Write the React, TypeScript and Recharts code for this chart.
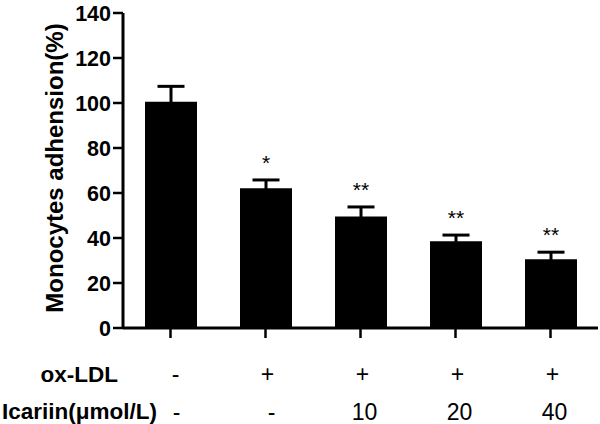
import React from 'react';
import { BarChart, Bar, XAxis, YAxis, ErrorBar, LabelList } from 'recharts';

const groups = ['Control', 'ox-LDL', 'Icariin 10', 'Icariin 20', 'Icariin 40'];
const oxLdlRow = ['-', '+', '+', '+', '+'];
const icariinRow = ['-', '-', '10', '20', '40'];
const adhesion = [100.6, 62.1, 49.6, 38.6, 30.6];
const sem = [6.8, 3.7, 4.2, 2.7, 3.1];
const significance = ['', '*', '**', '**', '**'];
const yTicks = [0, 20, 40, 60, 80, 100, 120, 140];

const data = groups.map((g, i) => ({
  group: g,
  value: adhesion[i],
  err: sem[i],
  sig: significance[i],
  ox: oxLdlRow[i],
  ica: icariinRow[i],
}));

const FONT = '"Liberation Sans", Arial, Helvetica, sans-serif';

const XTick = (props: any) => {
  const { x, y, payload } = props;
  const i = payload.index;
  const d = data[i];
  return (
    <g>
      {i === 0 && (
        <>
          <text x={118} y={y + 42} textAnchor="end" fontFamily={FONT} fontSize={22.5} fontWeight="bold" fill="#000">ox-LDL</text>
          <text x={157} y={y + 79} textAnchor="end" fontFamily={FONT} fontSize={22.5} fontWeight="bold" fill="#000">Icariin(μmol/L)</text>
        </>
      )}
      <text x={x + (i === 0 ? 5 : 2)} y={y + 42} textAnchor="middle" fontFamily={FONT} fontSize={23} fill="#000">{d.ox}</text>
      <text x={x + (i < 2 ? 6 : 4)} y={y + 80} textAnchor="middle" fontFamily={FONT} fontSize={23} fill="#000">{d.ica}</text>
    </g>
  );
};

const SigLabel = (props: any) => {
  const { x, y, width, height, index } = props;
  const d = data[index];
  if (!d || !d.sig) return null;
  const pxPerUnit = height / d.value;
  const errTop = y - d.err * pxPerUnit;
  return (
    <text x={x + width / 2} y={errTop - 10} textAnchor="middle" fontFamily={FONT} fontSize={21} fill="#000">{d.sig}</text>
  );
};

const YLabel = (props: any) => {
  const { viewBox } = props;
  const cx = viewBox.x + 54;
  const cy = 168;
  return (
    <text x={cx} y={cy} transform={`rotate(-90 ${cx} ${cy})`} textAnchor="middle" dominantBaseline="central" fontFamily={FONT} fontSize={24} fontWeight="bold" fill="#000">Monocytes adhension(%)</text>
  );
};

export default function App() {
  return (
    <div style={{ position: 'absolute', left: 0, top: 0, width: 600, height: 424, background: '#fff' }}>
      <BarChart width={600} height={424} data={data} margin={{ top: 13, right: 2, bottom: 0, left: 0 }} barCategoryGap={0}>
        <XAxis
          dataKey="group"
          height={96}
          axisLine={{ stroke: '#000', strokeWidth: 3 }}
          tickLine={{ stroke: '#000', strokeWidth: 2.5 }}
          tickSize={10}
          tick={<XTick />}
          interval={0}
        />
        <YAxis
          width={123}
          domain={[0, 140]}
          ticks={yTicks}
          axisLine={{ stroke: '#000', strokeWidth: 3 }}
          tickLine={{ stroke: '#000', strokeWidth: 2.5 }}
          tickSize={10}
          tickMargin={2}
          tick={{ fill: '#000', fontSize: 21.5, fontWeight: 'bold', fontFamily: FONT }}
          label={<YLabel />}
        />
        <Bar dataKey="value" fill="#000" barSize={52} isAnimationActive={false}>
          <ErrorBar dataKey="err" direction="y" width={13.5} stroke="#000" strokeWidth={3} />
          <LabelList dataKey="value" content={<SigLabel />} />
        </Bar>
      </BarChart>
    </div>
  );
}
